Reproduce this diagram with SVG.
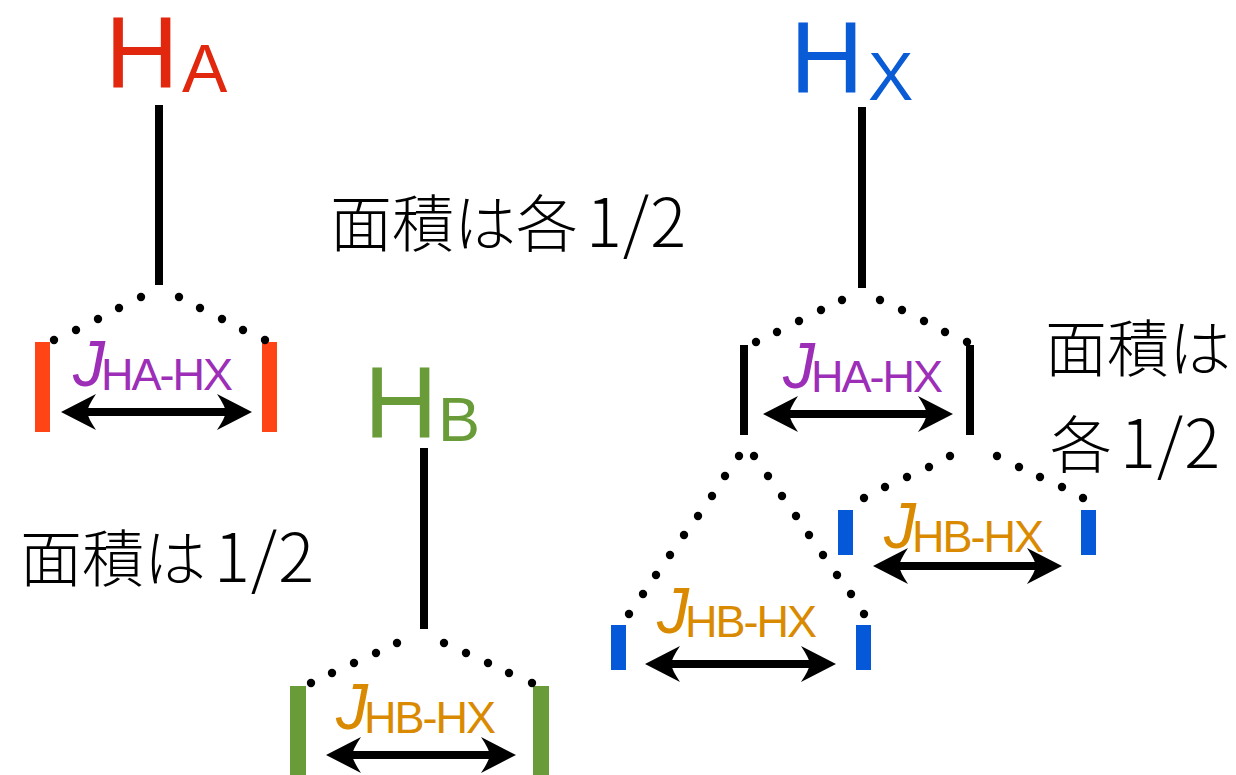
<svg xmlns="http://www.w3.org/2000/svg" width="1236" height="775" viewBox="0 0 1236 775">
<style>
.lat{font-family:"Liberation Sans",Arial,sans-serif}
.cjk{font-family:"Noto Sans CJK JP","Noto Sans CJK SC",sans-serif;font-size:62px;font-weight:300;fill:#000}
.num{letter-spacing:1px;font-size:67px}
.jl{font-family:"Liberation Sans",Arial,sans-serif;font-style:italic;font-size:64px}
.sub{font-family:"Liberation Sans",Arial,sans-serif;font-size:45px;letter-spacing:-2px}
.stem{stroke:#000;stroke-width:8;fill:none}
.arr{stroke:#000;stroke-width:8;fill:none;marker-start:url(#ah);marker-end:url(#ah)}
.dot{fill:#000}
.purple{fill:#9c2eb8}
.orange{fill:#d98a00}
</style>
<defs>
<marker id="ah" viewBox="-37 -19 39 38" refX="-22" refY="0" markerWidth="39" markerHeight="38" markerUnits="userSpaceOnUse" orient="auto-start-reverse">
<path d="M0,0 L-35,-18 Q-27,-6 -26,0 Q-27,6 -35,18 Z" fill="#000"/>
</marker>
<circle id="d" r="4.2" class="dot"/>
</defs>

<g id="HA">
<text class="lat" x="105" y="88" font-size="102" fill="#e1280f">H</text>
<text class="lat" x="182" y="92" font-size="68" fill="#e1280f">A</text>
<rect x="35" y="342" width="15" height="90" fill="#ff4416"/>
<rect x="262" y="342" width="15" height="90" fill="#ff4416"/>
<text class="jl purple" x="73" y="386">J</text>
<text class="sub purple" x="101" y="390">HA-HX</text>
</g>

<g id="HB">
<text class="lat" x="364" y="438" font-size="102" fill="#699c38">H</text>
<text class="lat" x="438" y="441" font-size="63" fill="#699c38">B</text>
<rect x="290" y="686" width="16" height="95" fill="#699c38"/>
<rect x="533" y="686" width="16" height="95" fill="#699c38"/>
<text class="jl orange" x="336" y="729">J</text>
<text class="sub orange" x="364" y="733">HB-HX</text>
</g>

<g id="HX">
<text class="lat" x="790" y="93" font-size="102" fill="#0a5bd6">H</text>
<text class="lat" x="868" y="100" font-size="68" fill="#0a5bd6">X</text>
<rect x="740" y="345" width="8" height="90" fill="#000"/>
<rect x="966" y="345" width="8" height="90" fill="#000"/>
<text class="jl purple" x="783" y="388">J</text>
<text class="sub purple" x="811" y="392">HA-HX</text>
</g>

<g id="HX-upper">
<rect x="838" y="510" width="15" height="45" fill="#0558d8"/>
<rect x="1081" y="510" width="15" height="45" fill="#0558d8"/>
<text class="jl orange" x="884" y="548">J</text>
<text class="sub orange" x="912" y="552">HB-HX</text>
</g>

<g id="HX-lower">
<rect x="611" y="625" width="15" height="45" fill="#0558d8"/>
<rect x="856" y="625" width="15" height="45" fill="#0558d8"/>
<text class="jl orange" x="657" y="633">J</text>
<text class="sub orange" x="685" y="637">HB-HX</text>
</g>

<g id="labels">
<text class="cjk" x="330" y="247">面積は各<tspan class="num" dx="8">1/2</tspan></text>
<text class="cjk" x="20" y="582">面積は<tspan class="num" dx="8">1/2</tspan></text>
<text class="cjk" x="1045" y="372">面積は</text>
<text class="cjk" x="1050" y="468">各<tspan class="num" dx="8">1/2</tspan></text>
</g>

<g id="connectors">
<line class="stem" x1="159" y1="105" x2="159" y2="285"/>
<line class="stem" x1="424" y1="448" x2="424" y2="629"/>
<line class="stem" x1="862" y1="107" x2="862" y2="288"/>
<line class="arr" x1="83" y1="412" x2="230" y2="412"/>
<line class="arr" x1="348" y1="755" x2="494" y2="755"/>
<line class="arr" x1="785" y1="414" x2="931" y2="414"/>
<line class="arr" x1="895" y1="566" x2="1040" y2="566"/>
<line class="arr" x1="667" y1="664" x2="814" y2="664"/>
<g id="dots">
<use href="#d" x="54" y="340"/><use href="#d" x="76" y="330"/><use href="#d" x="98" y="319"/><use href="#d" x="119" y="308"/><use href="#d" x="141" y="297"/>
<use href="#d" x="179" y="297"/><use href="#d" x="200" y="308"/><use href="#d" x="222" y="319"/><use href="#d" x="243" y="330"/><use href="#d" x="265" y="340"/>
<use href="#d" x="311" y="683"/><use href="#d" x="332" y="673"/><use href="#d" x="354" y="663"/><use href="#d" x="376" y="653"/><use href="#d" x="397" y="643"/>
<use href="#d" x="444" y="643"/><use href="#d" x="466" y="653"/><use href="#d" x="488" y="663"/><use href="#d" x="509" y="673"/><use href="#d" x="532" y="683"/>
<use href="#d" x="756" y="342"/><use href="#d" x="777" y="332"/><use href="#d" x="799" y="321"/><use href="#d" x="821" y="310"/><use href="#d" x="842" y="300"/>
<use href="#d" x="880" y="300"/><use href="#d" x="902" y="310"/><use href="#d" x="924" y="321"/><use href="#d" x="945" y="332"/><use href="#d" x="967" y="342"/>
<use href="#d" x="739" y="456"/><use href="#d" x="725" y="476"/><use href="#d" x="712" y="496"/><use href="#d" x="698" y="516"/><use href="#d" x="684" y="535"/><use href="#d" x="670" y="555"/><use href="#d" x="656" y="575"/><use href="#d" x="643" y="594"/><use href="#d" x="629" y="614"/>
<use href="#d" x="754" y="456"/><use href="#d" x="768" y="476"/><use href="#d" x="782" y="496"/><use href="#d" x="796" y="516"/><use href="#d" x="809" y="535"/><use href="#d" x="823" y="555"/><use href="#d" x="837" y="575"/><use href="#d" x="851" y="594"/><use href="#d" x="864" y="614"/>
<use href="#d" x="864" y="498"/><use href="#d" x="885" y="487"/><use href="#d" x="907" y="477"/><use href="#d" x="929" y="467"/><use href="#d" x="950" y="456"/>
<use href="#d" x="997" y="456"/><use href="#d" x="1019" y="467"/><use href="#d" x="1040" y="477"/><use href="#d" x="1062" y="487"/><use href="#d" x="1083" y="498"/>
</g>
</g>
</svg>
